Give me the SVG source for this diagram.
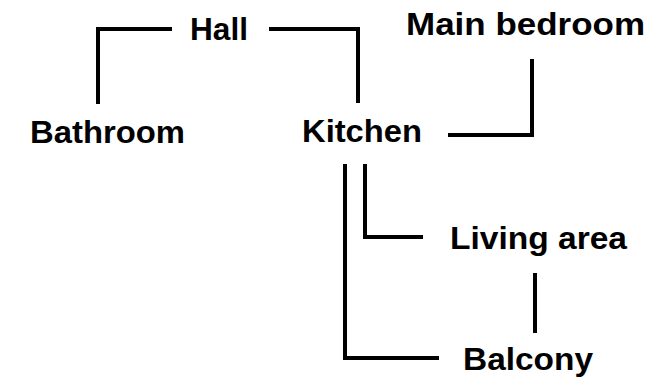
<svg xmlns="http://www.w3.org/2000/svg" width="661" height="382" viewBox="0 0 661 382">
<style>
.t{font-family:"Liberation Sans","DejaVu Sans",Arial,sans-serif;font-weight:bold;font-size:32px;fill:#000}
.c{fill:none;stroke:#000;stroke-width:4;stroke-linecap:butt;stroke-linejoin:miter}
</style>
<rect width="661" height="382" fill="#fff"/>
<g id="connectors">
<path class="c" d="M172,29 H98 V104"/>
<path class="c" d="M269,29 H358 V103"/>
<path class="c" d="M448,135 H532 V59"/>
<path class="c" d="M365,164 V237 H423"/>
<path class="c" d="M345,164 V358 H439"/>
<path class="c" d="M535,273 V333"/>
</g>
<g id="hall"><text class="t" x="190" y="40" textLength="58" lengthAdjust="spacingAndGlyphs">Hall</text></g>
<g id="main-bedroom"><text class="t" x="406" y="35" textLength="239" lengthAdjust="spacingAndGlyphs">Main bedroom</text></g>
<g id="bathroom"><text class="t" x="30" y="143" textLength="155" lengthAdjust="spacingAndGlyphs">Bathroom</text></g>
<g id="kitchen"><text class="t" x="302" y="142" textLength="120" lengthAdjust="spacingAndGlyphs">Kitchen</text></g>
<g id="living-area"><text class="t" x="450" y="249" textLength="177" lengthAdjust="spacingAndGlyphs">Living area</text></g>
<g id="balcony"><text class="t" x="463" y="370" textLength="130" lengthAdjust="spacingAndGlyphs">Balcony</text></g>
</svg>
